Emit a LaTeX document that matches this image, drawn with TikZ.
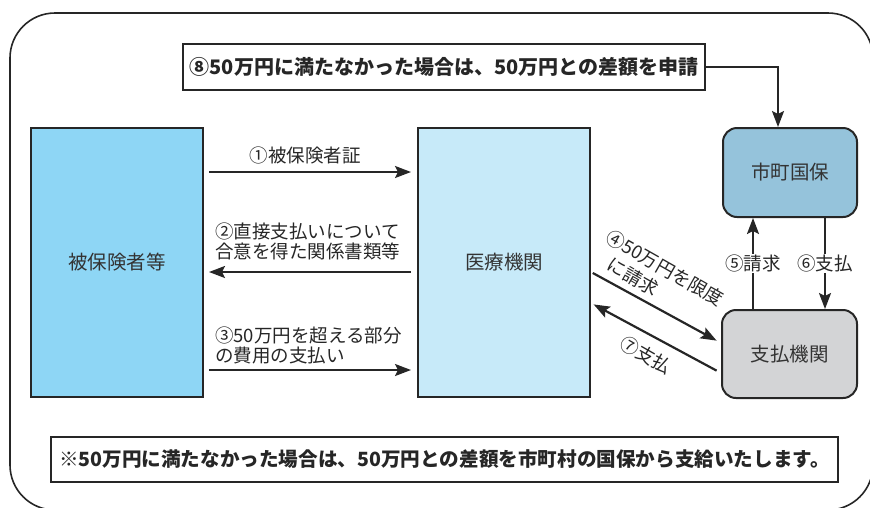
\documentclass[tikz,border=0pt]{standalone}
\usepackage{fontspec}
\setmainfont{Noto Sans CJK JP}
\usetikzlibrary{arrows.meta}
\definecolor{cA}{HTML}{8ED6F5}
\definecolor{cB}{HTML}{C7EAF9}
\definecolor{cC}{HTML}{95C3DB}
\definecolor{cD}{HTML}{D3D4D6}
\definecolor{ln}{HTML}{262626}
\definecolor{tx}{HTML}{333333}
\begin{document}
\begin{tikzpicture}[x=1pt,y=-1pt,
 box/.style={draw=ln, line width=2pt, inner sep=0pt, text=tx, font=\fontsize{19.5}{22}\selectfont},
 rbox/.style={box, rounded corners=14pt},
 note/.style={draw=ln, line width=1.6pt, fill=white, inner sep=0pt, text=ln, font=\bfseries\fontsize{20}{22}\selectfont},
 arr/.style={draw=ln, line width=2.2pt, -{Stealth[length=16pt,width=12pt,inset=3pt]}},
 lbl/.style={text=ln, inner sep=1pt, font=\fontsize{18.5}{20.5}\selectfont, align=left}]
\useasboundingbox (0,0) rectangle (870,507);
\draw[ln, line width=1.6pt, rounded corners=45pt] (10,13) rectangle (873,510);
% boxes
\node[box, fill=cA, minimum width=172pt, minimum height=269pt] (hihoken) at (117,262.5) {被保険者等};
\node[box, fill=cB, minimum width=172pt, minimum height=269pt] (iryo) at (504,262.5) {医療機関};
\node[rbox, fill=cC, minimum width=134pt, minimum height=89pt] (shicho) at (790,172.5) {市町国保};
\node[rbox, fill=cD, minimum width=135pt, minimum height=88pt] (shiharai) at (789.5,354) {支払機関};
\node[note, minimum width=522pt, minimum height=46pt] (top) at (444,67) {⑧50万円に満たなかった場合は、50万円との差額を申請};
\node[note, minimum width=787pt, minimum height=45pt, font=\bfseries\fontsize{19.6}{22}\selectfont] (foot) at (444.5,459.5) {※50万円に満たなかった場合は、50万円との差額を市町村の国保から支給いたします。};
% arrows between left boxes
\draw[arr, shorten <=5pt, shorten >=6pt] (hihoken.east |- 0,172) -- (iryo.west |- 0,172);
\draw[arr, shorten <=6pt, shorten >=5pt] (iryo.west |- 0,272) -- (hihoken.east |- 0,272);
\draw[arr, shorten <=5pt, shorten >=6pt] (hihoken.east |- 0,370) -- (iryo.west |- 0,370);
\node[lbl] (l1) at (305,155) {①被保険者証};
\node[lbl, anchor=west] (l2) at (214,241.5) {②直接支払いについて\\合意を得た関係書類等};
\node[lbl, anchor=west] (l3) at (214,345.5) {③50万円を超える部分\\の費用の支払い};
% diagonal arrows
\draw[arr, shorten <=2pt, shorten >=5pt] (iryo.east |- 0,272) -- (shiharai.west |- 0,343);
\draw[arr, shorten <=5pt, shorten >=3pt] (shiharai.west |- 0,373) -- (iryo.east |- 0,303);
\node[lbl, rotate=-29.6, font=\fontsize{18.5}{23}\selectfont] (l4) at (659,278) {④50万円を限度\\\hspace*{0.8em}に請求};
\node[lbl, rotate=-29.6] (l7) at (646,355) {⑦支払};
% vertical arrows
\draw[arr] (shiharai.north -| 753,0) -- (shicho.south -| 753,0) node[lbl, midway, fill=white] (l5) {⑤請求};
\draw[arr] (shicho.south -| 825,0) -- (shiharai.north -| 825,0) node[lbl, midway, fill=white] (l6) {⑥支払};
% top arrow
\draw[arr] (top.east) -| (shicho.north -| 778,0);
\end{tikzpicture}
\end{document}
